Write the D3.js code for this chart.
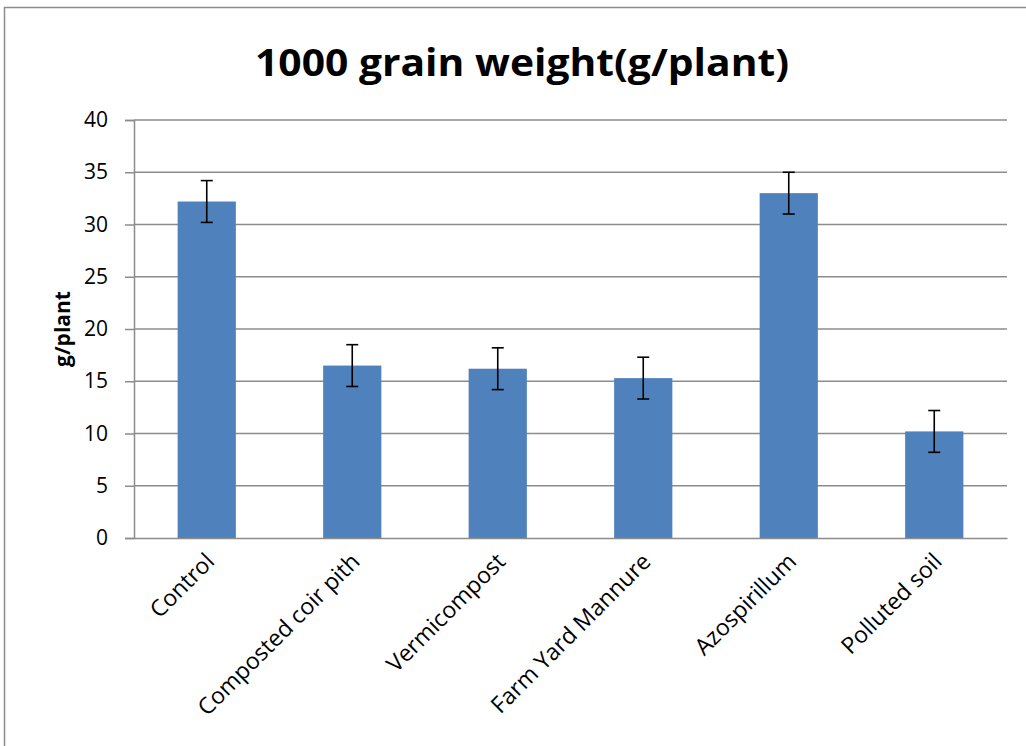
<!DOCTYPE html>
<html>
<head>
<meta charset="utf-8">
<script src="https://cdn.jsdelivr.net/npm/d3@7"></script>
<style>
  body { margin: 0; background: #fff; }
  text { font-family: "Open Sans", "Noto Sans", sans-serif; }
</style>
</head>
<body>
<div id="chart"></div>
<script>
const width = 1026;
const height = 746;

// data
const categories = ["Control", "Composted coir pith", "Vermicompost", "Farm Yard Mannure", "Azospirillum", "Polluted soil"];
const values = [32.2, 16.5, 16.2, 15.3, 33.0, 10.2];
const errors = [2, 2, 2, 2, 2, 2];
const yTicks = [0, 5, 10, 15, 20, 25, 30, 35, 40];

const margin = { top: 120, right: 19, bottom: 208, left: 134 };

const svg = d3
  .select("#chart")
  .append("svg")
  .attr("width", width)
  .attr("height", height)
  .attr("viewBox", [0, 0, width, height]);

// outer chart frame (only top/left visible in the reference)
svg.append("rect")
  .attr("x", 4.5).attr("y", 7.5)
  .attr("width", width + 10).attr("height", height + 10)
  .attr("fill", "none")
  .attr("stroke", "#8c8c8c")
  .attr("stroke-width", 1.5);

// title
svg.append("text")
  .attr("x", 522)
  .attr("y", 76)
  .attr("text-anchor", "middle")
  .style("font-size", "38px")
  .style("font-weight", "bold")
  .attr("textLength", 534)
  .attr("lengthAdjust", "spacingAndGlyphs")
  .text("1000 grain weight(g/plant)");

const x = d3.scaleBand()
  .domain(categories)
  .range([margin.left, width - margin.right])
  .paddingInner(0.6)
  .paddingOuter(0.3);

const y = d3.scaleLinear()
  .domain([0, 40])
  .range([height - margin.bottom, margin.top]);

// gridlines
svg.append("g")
  .selectAll("line")
  .data(yTicks.filter(d => d > 0))
  .enter()
  .append("line")
  .attr("x1", margin.left)
  .attr("x2", width - margin.right)
  .attr("y1", d => y(d))
  .attr("y2", d => y(d))
  .attr("stroke", "#8c8c8c")
  .attr("stroke-width", 1.5);

// bars
svg.append("g")
  .selectAll("rect")
  .data(values)
  .enter()
  .append("rect")
  .attr("x", (d, i) => x(categories[i]))
  .attr("y", d => y(d))
  .attr("width", x.bandwidth())
  .attr("height", d => y(0) - y(d))
  .attr("fill", "#4f81bd");

// y axis
const yAxis = d3.axisLeft(y)
  .tickValues(yTicks)
  .tickSize(9)
  .tickPadding(17);

const gy = svg.append("g")
  .attr("transform", `translate(${margin.left},0)`)
  .call(yAxis);
gy.select(".domain").attr("stroke", "#8c8c8c").attr("stroke-width", 1.5);
gy.selectAll(".tick line").attr("stroke", "#8c8c8c").attr("stroke-width", 1.5);
gy.selectAll(".tick text")
  .style("font-size", "21px")
  .style("font-family", "'Open Sans', sans-serif")
  .attr("fill", "#000");

// x axis baseline, no ticks
const xAxis = d3.axisBottom(x).tickSize(0).tickPadding(0);
const gx = svg.append("g")
  .attr("transform", `translate(0,${y(0)})`)
  .call(xAxis);
gx.select(".domain").attr("stroke", "#8c8c8c").attr("stroke-width", 1.5);
gx.selectAll(".tick text")
  .style("font-size", "23px")
  .style("font-family", "'Open Sans', sans-serif")
  .attr("fill", "#000")
  .attr("text-anchor", "end")
  .attr("dy", "0")
  .attr("transform", "translate(9,25) rotate(-45)");

// error bars
const err = svg.append("g").attr("stroke", "#000").attr("stroke-width", 1.6);
values.forEach((v, i) => {
  const cx = x(categories[i]) + x.bandwidth() / 2;
  const hi = y(v + errors[i]);
  const lo = y(v - errors[i]);
  err.append("line").attr("x1", cx).attr("x2", cx).attr("y1", hi).attr("y2", lo);
  err.append("line").attr("x1", cx - 6).attr("x2", cx + 6).attr("y1", hi).attr("y2", hi);
  err.append("line").attr("x1", cx - 6).attr("x2", cx + 6).attr("y1", lo).attr("y2", lo);
});

// y axis title
svg.append("text")
  .attr("transform", `translate(70,${(y(0) + y(40)) / 2}) rotate(-90)`)
  .attr("text-anchor", "middle")
  .style("font-size", "21px")
  .style("font-weight", "bold")
  .text("g/plant");
</script>
</body>
</html>
